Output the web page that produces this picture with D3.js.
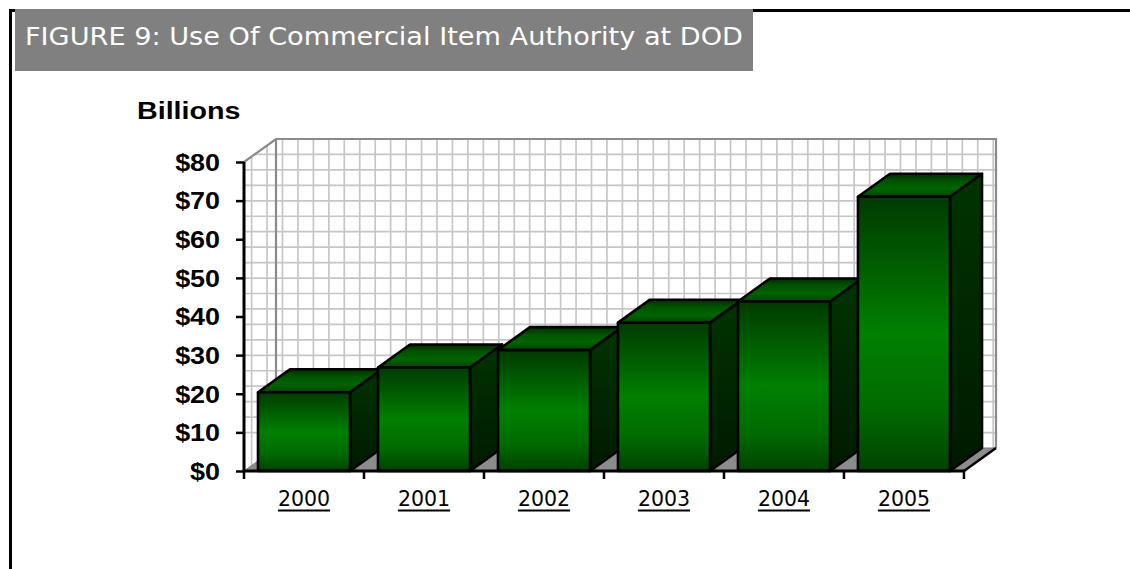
<!DOCTYPE html>
<html>
<head>
<meta charset="utf-8">
<script src="https://cdn.jsdelivr.net/npm/d3@7"></script>
<style>
  html, body { margin: 0; padding: 0; background: #fff; }
  svg { display: block; }
</style>
</head>
<body>
<svg id="chart" width="1130" height="569"></svg>
<script>
// Commercial item authority obligations at DOD, in billions of dollars
const years = ["2000", "2001", "2002", "2003", "2004", "2005"];
const values = [20.4, 26.8, 31.3, 38.4, 43.9, 71.0];
const yTicks = [0, 10, 20, 30, 40, 50, 60, 70, 80];
const titleText = "FIGURE 9: Use Of Commercial Item Authority at DOD";
const unitLabel = "Billions";

const svg = d3.select("#chart");
const W = 1130, H = 569;

// front plane of the 3-D plot area, and the depth offset of its back plane
const plot = { left: 244, right: 964, top: 162, bottom: 471 };
const depth = { dx: 32, dy: -23 };

const x = d3.scaleBand().domain(years).range([plot.left, plot.right])
  .paddingInner(0.233).paddingOuter(0.1167);
const y = d3.scaleLinear().domain([0, 80]).range([plot.bottom, plot.top]);

const defs = svg.append("defs");

function gradient(id, stops, vertical = true) {
  const g = defs.append("linearGradient").attr("id", id)
    .attr("x1", 0).attr("y1", 0).attr("x2", vertical ? 0 : 1).attr("y2", vertical ? 1 : 0);
  stops.forEach(([o, c]) => g.append("stop").attr("offset", o).attr("stop-color", c));
}
gradient("frontFill", [[0, "#003a00"], [0.5, "#008000"], [0.78, "#006a00"], [1, "#004200"]]);
gradient("sideFill", [[0, "#003400"], [1, "#001a00"]]);
gradient("topFill", [[0, "#002a00"], [0.3, "#005200"], [0.65, "#006400"], [1, "#004400"]]);

// outer frame lines
svg.append("path")
  .attr("d", `M10.5,${H} V10.5 H${W}`)
  .attr("fill", "none").attr("stroke", "#000").attr("stroke-width", 3);

// title banner
svg.append("rect").attr("x", 15).attr("y", 9).attr("width", 738).attr("height", 62)
  .attr("fill", "#808080");
svg.append("text").attr("x", 25).attr("y", 45)
  .attr("font-family", "DejaVu Sans").attr("font-size", 25.5).attr("fill", "#fff")
  .attr("textLength", 718).attr("lengthAdjust", "spacingAndGlyphs")
  .text(titleText);

// ---- walls and floor ----
const yBack0 = plot.bottom + depth.dy, yBackTop = plot.top + depth.dy;
const xBackL = plot.left + depth.dx, xBackR = plot.right + depth.dx;
const sideWall = [[plot.left, plot.bottom], [plot.left, plot.top], [xBackL, yBackTop], [xBackL, yBack0]];
const backWall = [[xBackL, yBack0], [xBackL, yBackTop], [xBackR, yBackTop], [xBackR, yBack0]];
const floor = [[plot.left, plot.bottom], [xBackL, yBack0], [xBackR, yBack0], [plot.right, plot.bottom]];
const line = d3.line();
const poly = pts => line(pts) + "Z";

svg.append("path").attr("d", poly(sideWall)).attr("fill", "#fff");
svg.append("path").attr("d", poly(backWall)).attr("fill", "#fff");

defs.append("clipPath").attr("id", "wallClip")
  .append("path").attr("d", poly(sideWall) + poly(backWall));

// small-grid wall pattern: rows every $4 on the back plane, square cells
const cell = (y(0) - y(4));
const grid = svg.append("g").attr("clip-path", "url(#wallClip)")
  .attr("stroke", "#c6c6c6").attr("stroke-width", 1.7);
d3.range(4, 80, 4).forEach(v => {
  const yy = y(v) + depth.dy;
  grid.append("line").attr("x1", plot.left).attr("x2", xBackR).attr("y1", yy).attr("y2", yy);
});
for (let gx = xBackL + 6.5 - 2 * cell; gx < xBackR; gx += cell) {
  grid.append("line").attr("x1", gx).attr("x2", gx).attr("y1", yBackTop).attr("y2", plot.bottom);
}

// wall outlines
svg.append("path")
  .attr("d", line([[plot.left, plot.top], [xBackL, yBackTop], [xBackR, yBackTop], [xBackR, yBack0]])
    + "M" + xBackL + "," + yBackTop + "V" + yBack0)
  .attr("fill", "none").attr("stroke", "#8a8a8a").attr("stroke-width", 2.2);

// floor
svg.append("path").attr("d", poly(floor)).attr("fill", "#8c8c8c")
  .attr("stroke", "#777").attr("stroke-width", 1);
svg.append("line")
  .attr("x1", plot.right).attr("y1", plot.bottom).attr("x2", xBackR).attr("y2", yBack0)
  .attr("stroke", "#000").attr("stroke-width", 2.5);

// ---- bars, drawn left to right so each one hides its neighbour's side ----
const data = years.map((yr, i) => ({ year: yr, value: values[i] }));
const bw = x.bandwidth();
const bars = svg.append("g").selectAll("g").data(data).join("g")
  .attr("stroke", "#000").attr("stroke-width", 2.6).attr("stroke-linejoin", "round");

bars.each(function (d) {
  const g = d3.select(this);
  const xl = x(d.year), xr = xl + bw, yt = y(d.value), yb = y(0);
  g.append("path").attr("fill", "url(#sideFill)")
    .attr("d", poly([[xr, yb], [xr, yt], [xr + depth.dx, yt + depth.dy], [xr + depth.dx, yb + depth.dy]]));
  g.append("path").attr("fill", "url(#topFill)")
    .attr("d", poly([[xl, yt], [xl + depth.dx, yt + depth.dy], [xr + depth.dx, yt + depth.dy], [xr, yt]]));
  g.append("rect").attr("fill", "url(#frontFill)")
    .attr("x", xl).attr("y", yt).attr("width", bw).attr("height", yb - yt);
});

// ---- axes ----
const yAxis = svg.append("g").attr("transform", `translate(${plot.left},0)`)
  .call(d3.axisLeft(y).tickValues(yTicks).tickSize(8).tickFormat(d => "$" + d));
yAxis.select(".domain").attr("stroke", "#000").attr("stroke-width", 3)
  .attr("d", `M0,${plot.top}V${plot.bottom}`);
yAxis.selectAll(".tick line").attr("stroke", "#000").attr("stroke-width", 2.5);
yAxis.selectAll(".tick text")
  .attr("x", -24 / 1.17).attr("dy", "0.36em")
  .attr("font-family", "Liberation Sans").attr("font-weight", "bold").attr("font-size", 23)
  .attr("fill", "#000")
  .attr("transform", "scale(1.17,1)");

const xAxis = svg.append("g").attr("transform", `translate(0,${plot.bottom})`)
  .call(d3.axisBottom(x).tickSize(0).tickPadding(0));
xAxis.select(".domain").attr("stroke", "#000").attr("stroke-width", 3)
  .attr("d", `M${plot.left},0H${plot.right}`);
xAxis.selectAll(".tick text")
  .attr("y", 35).attr("dy", 0)
  .attr("font-family", "DejaVu Sans").attr("font-size", 20.5).attr("fill", "#000");
// underline each year label with a solid rule under the text
xAxis.selectAll(".tick").each(function () {
  const t = d3.select(this).select("text");
  const w = t.node().getComputedTextLength();
  d3.select(this).append("line")
    .attr("x1", -w / 2).attr("x2", w / 2).attr("y1", 39.5).attr("y2", 39.5)
    .attr("stroke", "#000").attr("stroke-width", 2.2);
});
// category boundary ticks
xAxis.append("g").selectAll("line")
  .data(d3.range(years.length + 1).map(i => plot.left + i * x.step()))
  .join("line")
  .attr("x1", d => d).attr("x2", d => d).attr("y1", 0).attr("y2", 8)
  .attr("stroke", "#000").attr("stroke-width", 2.5);

// unit label
svg.append("text").attr("transform", "translate(137,119) scale(1.17,1)")
  .attr("font-family", "Liberation Sans").attr("font-weight", "bold").attr("font-size", 24.5)
  .attr("fill", "#000").text(unitLabel);
</script>
</body>
</html>
